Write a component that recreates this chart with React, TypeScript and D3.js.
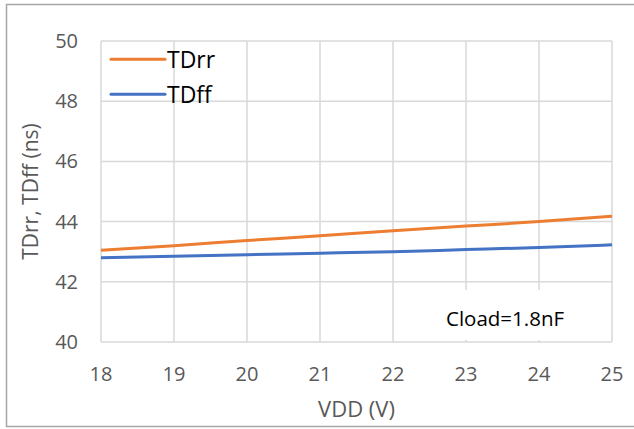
import React from "react";
import * as d3 from "d3";

const vdd = [18, 19, 20, 21, 22, 23, 24, 25];
const tdrr = [43.05, 43.2, 43.37, 43.53, 43.7, 43.85, 44.0, 44.18];
const tdff = [42.8, 42.85, 42.9, 42.95, 43.0, 43.07, 43.14, 43.23];
const xTicks = [18, 19, 20, 21, 22, 23, 24, 25];
const yTicks = [40, 42, 44, 46, 48, 50];
const seriesNames = ["TDrr", "TDff"];
const seriesColors = ["#ED7D31", "#4472C4"];

const W = 634;
const H = 429;
const font = "'Open Sans', sans-serif";

export default function App() {
  const x = d3.scaleLinear().domain([18, 25]).range([101, 612]);
  const y = d3.scaleLinear().domain([40, 50]).range([342, 41]);
  const line = d3
    .line<[number, number]>()
    .x((d) => x(d[0]))
    .y((d) => y(d[1]))
    .curve(d3.curveMonotoneX);
  const series = [tdrr, tdff];
  return (
    <svg
      width={W}
      height={H}
      style={{ position: "absolute", left: 0, top: 0, background: "#fff" }}
      fontFamily={font}
    >
      <rect x={6.5} y={4.5} width={W} height={422} fill="#fff" stroke="#a6a6a6" strokeWidth={1.5} />
      {yTicks.map((t) => (
        <line key={"gy" + t} x1={x(18)} x2={x(25)} y1={y(t)} y2={y(t)} stroke="#d9d9d9" strokeWidth={1.5} />
      ))}
      {xTicks.map((t) => (
        <line key={"gx" + t} x1={x(t)} x2={x(t)} y1={y(40)} y2={y(50)} stroke="#d9d9d9" strokeWidth={1.5} />
      ))}
      {yTicks.map((t) => (
        <text key={"ty" + t} x={78} y={y(t) + 7} textAnchor="end" fontSize={20} fill="#595959">
          {t}
        </text>
      ))}
      {xTicks.map((t) => (
        <text key={"tx" + t} x={x(t)} y={381} textAnchor="middle" fontSize={20} fill="#595959">
          {t}
        </text>
      ))}
      <rect x={440} y={290} width={160} height={50} fill="#fff" />
      <text x={446} y={326} fontSize={20.5} fill="#000">
        Cload=1.8nF
      </text>
      {series.map((s, i) => (
        <path
          key={"s" + i}
          d={line(vdd.map((v, j) => [v, s[j]]) as [number, number][]) || ""}
          fill="none"
          stroke={seriesColors[i]}
          strokeWidth={3}
        />
      ))}
      {seriesNames.map((n, i) => (
        <g key={"l" + n}>
          <line x1={111} x2={165} y1={59.3 + i * 35} y2={59.3 + i * 35} stroke={seriesColors[i]} strokeWidth={3} strokeLinecap="round" />
          <text x={167} y={67.5 + i * 35} fontSize={23} fill="#000">
            {n}
          </text>
        </g>
      ))}
      <text
        transform={`translate(38, ${(y(40) + y(50)) / 2}) rotate(-90)`}
        textAnchor="middle"
        fontSize={21}
        fill="#595959"
      >
        TDrr, TDff (ns)
      </text>
      <text x={(x(18) + x(25)) / 2} y={417} textAnchor="middle" fontSize={22} fill="#595959">
        VDD (V)
      </text>
    </svg>
  );
}
